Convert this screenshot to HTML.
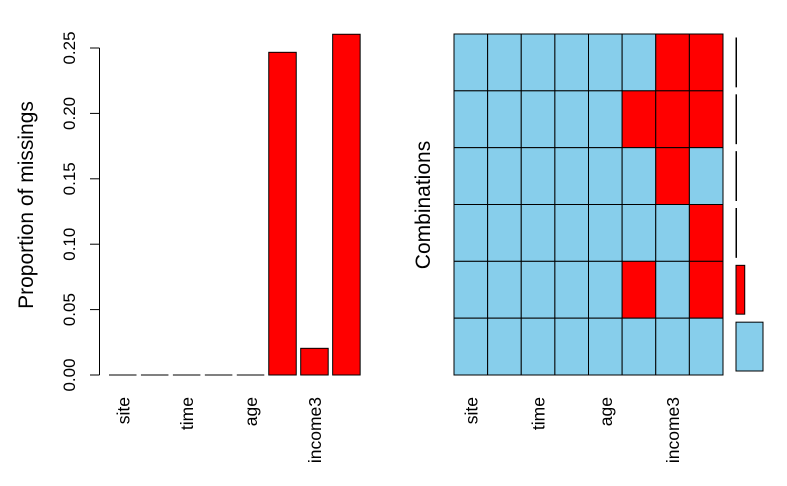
<!DOCTYPE html>
<html><head><meta charset="utf-8"><style>
html,body{margin:0;padding:0;background:#fff}
svg{display:block;font-family:"Liberation Sans",Arial,sans-serif}
</style></head><body>
<svg id="chart" width="787" height="486" viewBox="0 0 787 486" xmlns="http://www.w3.org/2000/svg">
<g id="left"></g>
<g id="right"></g>
</svg>
<script>
const variables = ["site","v2","time","v4","age","v6","income3","v8"];
const shownLabels = ["site","","time","","age","","income3",""];
const proportions = [0,0,0,0,0,0.2467,0.0204,0.2605];
const yTicks = [0,0.05,0.10,0.15,0.20,0.25];
const yTickLabels = ["0.00","0.05","0.10","0.15","0.20","0.25"];
const combinations = [
 [0,0,0,0,0,0,1,1],
 [0,0,0,0,0,1,1,1],
 [0,0,0,0,0,0,1,0],
 [0,0,0,0,0,0,0,1],
 [0,0,0,0,0,1,0,1],
 [0,0,0,0,0,0,0,0]
];
const combCounts = [0.3,0.3,0.6,0.6,22,68];

const NS="http://www.w3.org/2000/svg";
function mk(tag, attrs, parent){const e=document.createElementNS(NS,tag);for(const k in attrs)e.setAttribute(k,attrs[k]);parent.appendChild(e);return e;}
const RED="#ff0000", BLUE="#87ceeb";

const L=document.getElementById('left');
const y0=375, yTop=48;
function yScale(v){return y0-(v/0.25)*(y0-yTop);}
function xBar(i){return 109+i*31.95;}
const bw=27.5;
const axis=mk('line',{x1:99.5,x2:99.5,y1:yScale(0),y2:yScale(0.25),stroke:'#000','stroke-width':1},L);


yTicks.forEach((t,i)=>{
  const y=yScale(t);
  const tk=mk('line',{x1:90,x2:99.5,y1:y,y2:y,stroke:'#000','stroke-width':1},L);
  
  
  const tx=mk('text',{x:0,y:0,transform:`translate(75,${y}) rotate(-90)`,'text-anchor':'middle','font-size':'17',fill:'#000'},L);
  tx.textContent=yTickLabels[i];
  
  
});
const yt=mk('text',{x:0,y:0,transform:'translate(33,205) rotate(-90)','text-anchor':'middle','font-size':'21',fill:'#000'},L);
yt.textContent='Proportion of missings';


proportions.forEach((p,i)=>{
  const x=xBar(i);
  const yv=yScale(p);
  let r;
  if(y0-yv<0.5){
    r=mk('line',{x1:x,x2:x+bw,y1:y0,y2:y0,stroke:'#000','stroke-width':1},L);
  } else {
    r=mk('rect',{x:x,y:yv,width:bw,height:y0-yv,fill:RED,stroke:'#000','stroke-width':1},L);
  }
  
  
  if(shownLabels[i]){
    const t=mk('text',{x:0,y:0,transform:`translate(${x+bw/2+6.5},397) rotate(-90)`,'text-anchor':'end','font-size':'17.5',fill:'#000'},L);
    t.textContent=shownLabels[i];
    
    
  }
});

const R=document.getElementById('right');
const gx0=454, gx1=723, gy0=34, gy1=375;
const cw=(gx1-gx0)/variables.length, rh=(gy1-gy0)/combinations.length;
combinations.forEach((row,ri)=>{
  row.forEach((v,ci)=>{
    const c=mk('rect',{x:gx0+ci*cw,y:gy0+ri*rh,width:cw,height:rh,fill:v?RED:BLUE,stroke:'#000','stroke-width':1},R);
    
    
  });
});
const maxC=Math.max(...combCounts);
combCounts.forEach((c,ri)=>{
  const w=c/maxC*27;
  const col=combinations[ri].some(v=>v)?RED:BLUE;
  const b=mk('rect',{x:736,y:gy0+ri*rh+4,width:Math.max(0.5,w),height:rh-8,fill:col,stroke:'#000','stroke-width':1},R);
  
  
});
const rt=mk('text',{x:0,y:0,transform:'translate(430,205) rotate(-90)','text-anchor':'middle','font-size':'21',fill:'#000'},R);
rt.textContent='Combinations';


shownLabels.forEach((lab,i)=>{
  if(!lab)return;
  const t=mk('text',{x:0,y:0,transform:`translate(${gx0+(i+0.5)*cw+6.5},397) rotate(-90)`,'text-anchor':'end','font-size':'17.5',fill:'#000'},R);
  t.textContent=lab;
  
  
});
</script>
</body></html>
